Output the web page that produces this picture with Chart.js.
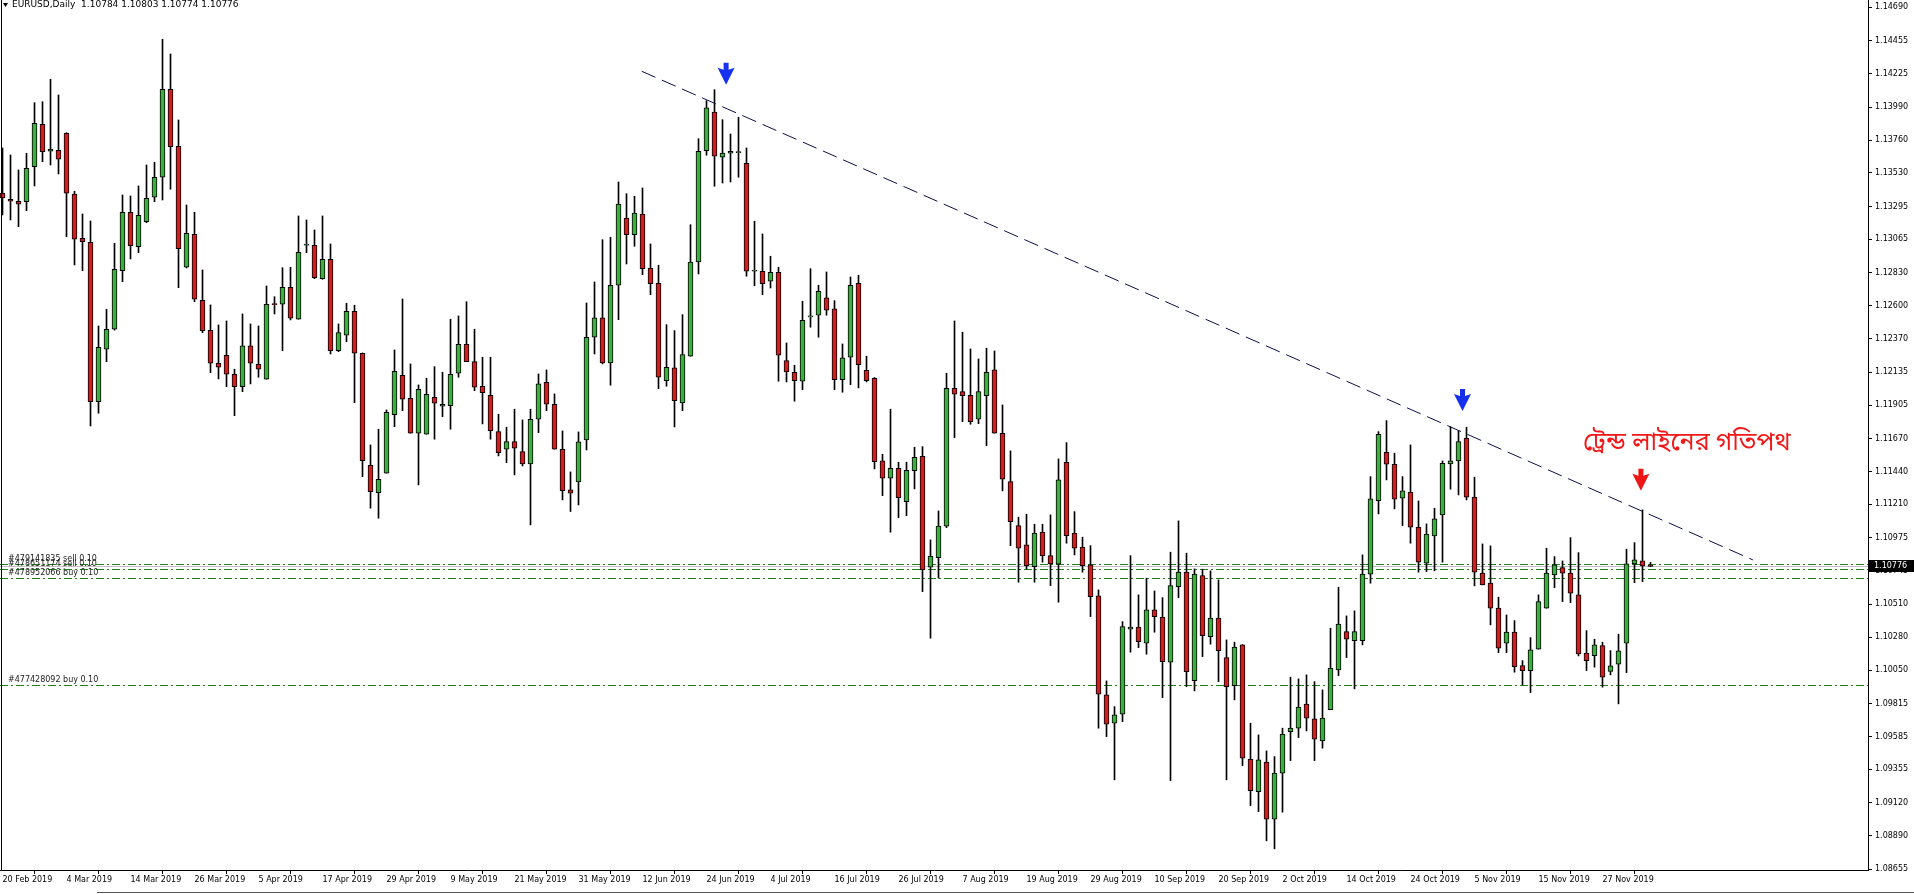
<!DOCTYPE html>
<html>
<head>
<meta charset="utf-8">
<title>EURUSD Daily</title>
<script src="https://cdn.jsdelivr.net/npm/chart.js@4.4.1/dist/chart.umd.min.js"></script>
<style>
  html, body { margin: 0; padding: 0; background: #fff; overflow: hidden; }
  canvas { display: block; }
</style>
</head>
<body>
<canvas id="chart" width="1914" height="894"></canvas>
<script>
// bottom axis labels, one every 8 bars
const dateLabels = ['20 Feb 2019', '4 Mar 2019', '14 Mar 2019', '26 Mar 2019', '5 Apr 2019', '17 Apr 2019',
  '29 Apr 2019', '9 May 2019', '21 May 2019', '31 May 2019', '12 Jun 2019', '24 Jun 2019', '4 Jul 2019',
  '16 Jul 2019', '26 Jul 2019', '7 Aug 2019', '19 Aug 2019', '29 Aug 2019', '10 Sep 2019', '20 Sep 2019',
  '2 Oct 2019', '14 Oct 2019', '24 Oct 2019', '5 Nov 2019', '15 Nov 2019', '27 Nov 2019'];

// right axis labels
const priceTicks = [1.14690, 1.14455, 1.14225, 1.13990, 1.13760, 1.13530, 1.13295, 1.13065, 1.12830,
  1.12600, 1.12370, 1.12135, 1.11905, 1.11670, 1.11440, 1.11210, 1.10975, 1.10745, 1.10510, 1.10280,
  1.10050, 1.09815, 1.09585, 1.09355, 1.09120, 1.08890, 1.08655];

// daily candles, 20 Feb 2019 onwards
const opens = [
  1.13390, 1.13346, 1.13332, 1.13329, 1.13574, 1.13871, 1.13682, 1.13689, 1.13808, 1.13383,
  1.13073, 1.13045, 1.11929, 1.12296, 1.12436, 1.12846, 1.13255, 1.13014, 1.13189, 1.13360,
  1.13500, 1.14116, 1.13717, 1.12870, 1.13101, 1.12639, 1.12429, 1.12198, 1.12254, 1.12121,
  1.12034, 1.12319, 1.12191, 1.12086, 1.12613, 1.12611, 1.12730, 1.12506, 1.13024, 1.13024,
  1.12790, 1.12926, 1.12286, 1.12394, 1.12562, 1.12268, 1.11484, 1.11292, 1.11428, 1.11838,
  1.12114, 1.11953, 1.11708, 1.11701, 1.11960, 1.11897, 1.11901, 1.12128, 1.12331, 1.12209,
  1.12037, 1.11974, 1.11719, 1.11596, 1.11649, 1.11579, 1.11493, 1.11806, 1.12065, 1.11911,
  1.11596, 1.11311, 1.11367, 1.11661, 1.12380, 1.12515, 1.12200, 1.12744, 1.13215, 1.13098,
  1.13243, 1.12865, 1.12758, 1.12076, 1.12165, 1.11920, 1.12247, 1.12907, 1.13686, 1.13957,
  1.13640, 1.13668, 1.13672, 1.13598, 1.12842, 1.12842, 1.12772, 1.12835, 1.12216, 1.12135,
  1.12072, 1.12522, 1.12534, 1.12655, 1.12578, 1.12083, 1.12240, 1.12758, 1.12149, 1.12093,
  1.11514, 1.11393, 1.11463, 1.11229, 1.11446, 1.11547, 1.10770, 1.10837, 1.11057, 1.12023,
  1.11999, 1.11974, 1.11806, 1.11971, 1.12151, 1.11708, 1.11369, 1.11061, 1.10926, 1.10774,
  1.11015, 1.10851, 1.10791, 1.11505, 1.11008, 1.10910, 1.10786, 1.10569, 1.09876, 1.09678,
  1.09741, 1.10336, 1.10350, 1.10238, 1.10471, 1.10420, 1.10105, 1.10634, 1.10735, 1.09976,
  1.10712, 1.10284, 1.10413, 1.10137, 1.09941, 1.10226, 1.09426, 1.09199, 1.09405, 1.09006,
  1.09328, 1.09619, 1.09643, 1.09811, 1.09708, 1.09554, 1.09772, 1.10051, 1.10319, 1.10256,
  1.10256, 1.10721, 1.11236, 1.11575, 1.11491, 1.11253, 1.11295, 1.11050, 1.10798, 1.10989,
  1.11136, 1.11493, 1.11514, 1.11673, 1.11260, 1.10728, 1.10658, 1.10483, 1.10238, 1.10315,
  1.10081, 1.10046, 1.10196, 1.10483, 1.10716, 1.10767, 1.10728, 1.10576, 1.10168, 1.10151,
  1.10221, 1.10041, 1.10091, 1.10238, 1.10793, 1.10814, 1.10784];
const highs = [
  1.13705, 1.13656, 1.13551, 1.13668, 1.14022, 1.14029, 1.14186, 1.14076, 1.13812, 1.13402,
  1.13243, 1.13194, 1.12459, 1.12576, 1.13038, 1.13376, 1.13369, 1.13439, 1.13586, 1.13605,
  1.14466, 1.14363, 1.13901, 1.13306, 1.13255, 1.12851, 1.12606, 1.12466, 1.12494, 1.12156,
  1.12543, 1.12473, 1.12459, 1.12739, 1.12664, 1.12867, 1.12870, 1.13229, 1.13201, 1.13131,
  1.13229, 1.13033, 1.12473, 1.12618, 1.12604, 1.12270, 1.11626, 1.11736, 1.11871, 1.12291,
  1.12648, 1.12193, 1.12046, 1.12093, 1.12174, 1.12135, 1.12506, 1.12529, 1.12629, 1.12436,
  1.12240, 1.12240, 1.11841, 1.11750, 1.11876, 1.11801, 1.11876, 1.12123, 1.12151, 1.11983,
  1.11724, 1.11437, 1.11717, 1.12620, 1.12767, 1.13063, 1.13080, 1.13467, 1.13385, 1.13367,
  1.13425, 1.13033, 1.12884, 1.12468, 1.12426, 1.12538, 1.13168, 1.13770, 1.14036, 1.14113,
  1.13903, 1.13803, 1.13920, 1.13705, 1.13192, 1.13103, 1.12947, 1.12870, 1.12340, 1.12184,
  1.12632, 1.12860, 1.12744, 1.12837, 1.12636, 1.12333, 1.12802, 1.12814, 1.12247, 1.12098,
  1.11561, 1.11876, 1.11505, 1.11505, 1.11610, 1.11614, 1.10961, 1.11164, 1.12128, 1.12494,
  1.12415, 1.12298, 1.12228, 1.12303, 1.12284, 1.11906, 1.11584, 1.11120, 1.11141, 1.11071,
  1.11071, 1.11136, 1.11528, 1.11642, 1.11159, 1.10980, 1.10921, 1.10611, 1.09974, 1.09794,
  1.10389, 1.10851, 1.10576, 1.10693, 1.10604, 1.10557, 1.10875, 1.11094, 1.10868, 1.10758,
  1.10756, 1.10744, 1.10681, 1.10261, 1.10245, 1.10228, 1.09678, 1.09596, 1.09484, 1.09444,
  1.09643, 1.10000, 1.09988, 1.10016, 1.09969, 1.09911, 1.10343, 1.10630, 1.10429, 1.10464,
  1.10856, 1.11404, 1.11719, 1.11796, 1.11568, 1.11404, 1.11626, 1.11234, 1.11073, 1.11183,
  1.11514, 1.11754, 1.11726, 1.11750, 1.11400, 1.10933, 1.10919, 1.10560, 1.10436, 1.10396,
  1.10116, 1.10277, 1.10576, 1.10903, 1.10844, 1.10814, 1.10977, 1.10872, 1.10326, 1.10266,
  1.10245, 1.10186, 1.10301, 1.10896, 1.10942, 1.11171, 1.10803];
const lows = [
  1.13236, 1.13201, 1.13154, 1.13266, 1.13439, 1.13609, 1.13586, 1.13523, 1.13084, 1.12886,
  1.12846, 1.11759, 1.11848, 1.12209, 1.12430, 1.12769, 1.12928, 1.12972, 1.13182, 1.13329,
  1.13341, 1.13416, 1.12727, 1.12865, 1.12629, 1.12412, 1.12132, 1.12088, 1.12034, 1.11831,
  1.11999, 1.12053, 1.12100, 1.12086, 1.12543, 1.12286, 1.12501, 1.12506, 1.12972, 1.12790,
  1.12786, 1.12263, 1.12279, 1.12349, 1.11922, 1.11404, 1.11183, 1.11113, 1.11428, 1.11754,
  1.11866, 1.11708, 1.11346, 1.11701, 1.11666, 1.11824, 1.11736, 1.12100, 1.12209, 1.12006,
  1.11773, 1.11666, 1.11549, 1.11502, 1.11416, 1.11479, 1.11066, 1.11712, 1.11866, 1.11596,
  1.11241, 1.11160, 1.11206, 1.11591, 1.12263, 1.12193, 1.12044, 1.12503, 1.12893, 1.13017,
  1.12818, 1.12678, 1.12020, 1.12037, 1.11752, 1.11866, 1.12247, 1.12823, 1.13654, 1.13437,
  1.13460, 1.13467, 1.13500, 1.12807, 1.12741, 1.12678, 1.12725, 1.12072, 1.12067, 1.11932,
  1.12013, 1.12450, 1.12380, 1.12534, 1.12013, 1.11995, 1.12048, 1.12025, 1.12067, 1.11458,
  1.11271, 1.11015, 1.11117, 1.11131, 1.11318, 1.10599, 1.10273, 1.10693, 1.11047, 1.11677,
  1.11789, 1.11771, 1.11775, 1.11621, 1.11708, 1.11304, 1.10921, 1.10665, 1.10758, 1.10665,
  1.10805, 1.10641, 1.10525, 1.10938, 1.10856, 1.10735, 1.10424, 1.09643, 1.09584, 1.09281,
  1.09689, 1.10175, 1.10207, 1.10161, 1.10315, 1.09857, 1.09276, 1.10557, 1.09934, 1.09904,
  1.10144, 1.10231, 1.09969, 1.09281, 1.09841, 1.09381, 1.09101, 1.09059, 1.08854, 1.08798,
  1.09055, 1.09416, 1.09577, 1.09624, 1.09416, 1.09503, 1.09772, 1.10011, 1.10137, 1.09918,
  1.10226, 1.10658, 1.11143, 1.11381, 1.11178, 1.11061, 1.10938, 1.10735, 1.10739, 1.10744,
  1.10805, 1.11316, 1.11276, 1.11241, 1.10639, 1.10646, 1.10366, 1.10172, 1.10172, 1.10035,
  1.09946, 1.09892, 1.10196, 1.10483, 1.10627, 1.10529, 1.10522, 1.10149, 1.10046, 1.10070,
  1.09930, 1.10016, 1.09813, 1.10032, 1.10662, 1.10669, 1.10774];
const closes = [
  1.13355, 1.13332, 1.13311, 1.13563, 1.13878, 1.13679, 1.13698, 1.13626, 1.13388, 1.13066,
  1.13049, 1.11929, 1.12310, 1.12436, 1.12856, 1.13255, 1.13021, 1.13234, 1.13353, 1.13500,
  1.14116, 1.13714, 1.13000, 1.13108, 1.12646, 1.12426, 1.12198, 1.12170, 1.12121, 1.12034,
  1.12319, 1.12198, 1.12156, 1.12611, 1.12608, 1.12730, 1.12513, 1.12975, 1.13024, 1.12797,
  1.12926, 1.12286, 1.12412, 1.12562, 1.12268, 1.11516, 1.11299, 1.11386, 1.11855, 1.12142,
  1.11946, 1.11708, 1.12016, 1.11981, 1.11918, 1.11911, 1.12121, 1.12331, 1.12209, 1.12030,
  1.11992, 1.11726, 1.11572, 1.11649, 1.11603, 1.11493, 1.11806, 1.12053, 1.11911, 1.11596,
  1.11306, 1.11288, 1.11647, 1.12380, 1.12515, 1.12200, 1.12744, 1.13313, 1.13098, 1.13250,
  1.12860, 1.12755, 1.12100, 1.12170, 1.11936, 1.12258, 1.12907, 1.13682, 1.13986, 1.13647,
  1.13670, 1.13682, 1.13672, 1.12842, 1.12842, 1.12755, 1.12835, 1.12254, 1.12137, 1.12076,
  1.12499, 1.12522, 1.12702, 1.12569, 1.12083, 1.12235, 1.12744, 1.12188, 1.12076, 1.11509,
  1.11393, 1.11463, 1.11257, 1.11449, 1.11540, 1.10751, 1.10847, 1.11057, 1.12023, 1.11981,
  1.11971, 1.11789, 1.11999, 1.12135, 1.11708, 1.11386, 1.11089, 1.10903, 1.10781, 1.11008,
  1.10849, 1.10793, 1.11381, 1.10991, 1.10903, 1.10781, 1.10564, 1.09881, 1.09671, 1.09736,
  1.10354, 1.10350, 1.10249, 1.10471, 1.10424, 1.10109, 1.10641, 1.10735, 1.10039, 1.10721,
  1.10291, 1.10413, 1.10186, 1.09934, 1.10210, 1.09433, 1.09206, 1.09421, 1.09006, 1.09328,
  1.09601, 1.09643, 1.09790, 1.09713, 1.09566, 1.09713, 1.10063, 1.10371, 1.10266, 1.10319,
  1.10721, 1.11248, 1.11701, 1.11491, 1.11246, 1.11304, 1.11050, 1.10805, 1.11001, 1.11108,
  1.11498, 1.11514, 1.11649, 1.11260, 1.10735, 1.10646, 1.10483, 1.10203, 1.10315, 1.10074,
  1.10046, 1.10191, 1.10529, 1.10728, 1.10786, 1.10728, 1.10588, 1.10163, 1.10116, 1.10226,
  1.10000, 1.10079, 1.10184, 1.10793, 1.10821, 1.10779, 1.10776];

// open orders (horizontal dash-dot lines)
const orderPrices = [1.10793, 1.10758, 1.10693, 1.09946];
const orderLabels = ['#479141835 sell 0.10', '#478651174 sell 0.10', '#478952066 buy 0.10', '#477428092 buy 0.10'];

// trend line, ends given as (bar, price)
const trendBars = [79.9, 218.8];
const trendPrices = [1.14242, 1.10821];

// arrows: bar, tip price, colour
const arrowBars = [90.45, 182.5, 204.8];
const arrowPrices = [1.14148, 1.11864, 1.11306];
const arrowColors = ['#1530ee', '#1530ee', '#ee1515'];

const noteText = 'ট্রেন্ড লাইনের গতিপথ';
const noteBar = 197.56;
const notePrice = 1.11626;

const title = 'EURUSD,Daily  1.10784 1.10803 1.10774 1.10776';
const lastPrice = closes[closes.length - 1];

const wicks = highs.map((h, i) => ({ x: i, y: [lows[i], h] }));
const bodies = opens.map((o, i) => ({ x: i, y: [Math.min(o, closes[i]), Math.max(o, closes[i])] }));
const bodyColors = opens.map((o, i) => closes[i] >= o ? '#3cb03c' : '#d41c1c');
const trend = trendBars.map((b, i) => ({ x: b, y: trendPrices[i] }));

const axisFont = { family: 'DejaVu Sans', size: 8 };

function drawArrow(ctx, x, tip, color) {
  ctx.fillStyle = color;
  ctx.beginPath();
  ctx.moveTo(x - 2.5, tip - 22);
  ctx.lineTo(x + 2.5, tip - 22);
  ctx.lineTo(x + 2.5, tip - 15);
  ctx.lineTo(x + 8.5, tip - 17);
  ctx.lineTo(x, tip);
  ctx.lineTo(x - 8.5, tip - 17);
  ctx.lineTo(x - 2.5, tip - 15);
  ctx.closePath();
  ctx.fill();
}

const overlay = {
  id: 'overlay',
  beforeDatasetsDraw(chart) {
    const { ctx, chartArea: a, scales: { y } } = chart;
    ctx.save();
    ctx.lineWidth = 1;
    // bid line
    ctx.strokeStyle = '#c0c0c0';
    let py = Math.round(y.getPixelForValue(lastPrice)) + 0.5;
    ctx.beginPath(); ctx.moveTo(a.left, py); ctx.lineTo(a.right, py); ctx.stroke();
    // order lines
    ctx.strokeStyle = '#1f7f1f';
    ctx.setLineDash([8, 3, 2, 3]);
    orderPrices.forEach(p => {
      const ly = Math.round(y.getPixelForValue(p)) + 0.5;
      ctx.beginPath(); ctx.moveTo(a.left, ly); ctx.lineTo(a.right, ly); ctx.stroke();
    });
    ctx.restore();
  },
  afterDraw(chart) {
    const { ctx, chartArea: a, scales: { x, y } } = chart;
    ctx.save();

    // frame on the left
    ctx.fillStyle = '#000';
    ctx.fillRect(1, 0, 1, a.bottom);

    // order labels
    ctx.font = '8px "DejaVu Sans"';
    ctx.fillStyle = '#222';
    ctx.textBaseline = 'bottom';
    orderPrices.forEach((p, i) => {
      const ly = Math.round(y.getPixelForValue(p));
      ctx.fillText(orderLabels[i], a.left + 8, ly - 1);
    });

    // arrows
    arrowBars.forEach((b, i) => {
      drawArrow(ctx, x.getPixelForValue(b), y.getPixelForValue(arrowPrices[i]), arrowColors[i]);
    });

    // note text
    ctx.font = '25px "Noto Sans Bengali", "Noto Sans", sans-serif';
    ctx.fillStyle = '#f01818';
    ctx.textBaseline = 'middle';
    ctx.fillText(noteText, x.getPixelForValue(noteBar), y.getPixelForValue(notePrice));

    // title
    ctx.fillStyle = '#000';
    ctx.beginPath();
    ctx.moveTo(3, 3); ctx.lineTo(8, 3); ctx.lineTo(5.5, 7); ctx.closePath(); ctx.fill();
    ctx.font = '9px "DejaVu Sans"';
    ctx.textBaseline = 'middle';
    ctx.fillText(title, 12, 5);

    // current price box on the axis
    const cy = y.getPixelForValue(lastPrice);
    ctx.font = '8px "DejaVu Sans"';
    ctx.fillStyle = '#000';
    ctx.fillRect(a.right + 1, Math.round(cy) - 6, chart.width - a.right - 1, 12);
    ctx.fillStyle = '#fff';
    ctx.fillText(lastPrice.toFixed(5), a.right + 6, Math.round(cy));

    // tab bar line at the bottom
    ctx.fillStyle = '#555';
    ctx.fillRect(97, chart.height - 2, chart.width - 97, 1);
    ctx.restore();
  }
};

new Chart(document.getElementById('chart'), {
  type: 'bar',
  data: {
    datasets: [
      {
        type: 'line',
        data: trend,
        borderColor: '#0c0c4a',
        borderWidth: 1,
        borderDash: [15, 7],
        pointRadius: 0,
        fill: false,
        order: 0
      },
      {
        data: bodies,
        backgroundColor: bodyColors,
        borderColor: '#000',
        borderWidth: 1,
        borderSkipped: false,
        barThickness: 5,
        minBarLength: 1,
        grouped: false,
        order: 1
      },
      {
        data: wicks,
        backgroundColor: '#000',
        borderWidth: 0,
        barThickness: 1,
        grouped: false,
        order: 2
      }
    ]
  },
  options: {
    responsive: false,
    animation: false,
    events: [],
    layout: { padding: 0 },
    plugins: { legend: { display: false }, tooltip: { enabled: false } },
    scales: {
      x: {
        type: 'linear',
        min: -0.3125,
        max: 233.1875,
        offset: false,
        afterBuildTicks: s => { s.ticks = dateLabels.map((d, i) => ({ value: i * 8 })); },
        afterFit: s => { s.height = 24; s.paddingLeft = 0; s.paddingRight = 0; },
        ticks: {
          callback: (v, i) => dateLabels[i],
          autoSkip: false,
          maxRotation: 0,
          align: 'start',
          padding: 1,
          color: '#000',
          font: axisFont
        },
        grid: { drawOnChartArea: false, tickLength: 4, color: '#000' },
        border: { display: true, color: '#000' }
      },
      y: {
        type: 'linear',
        position: 'right',
        min: 1.0865,
        max: 1.14741,
        afterBuildTicks: s => { s.ticks = priceTicks.map(v => ({ value: v })); },
        afterFit: s => { s.width = 46; s.paddingTop = 0; s.paddingBottom = 0; },
        ticks: {
          callback: v => v.toFixed(5),
          autoSkip: false,
          padding: 3,
          color: '#000',
          font: axisFont
        },
        grid: { drawOnChartArea: false, tickLength: 4, color: '#000' },
        border: { display: true, color: '#000' }
      }
    }
  },
  plugins: [overlay]
});
</script>
</body>
</html>
